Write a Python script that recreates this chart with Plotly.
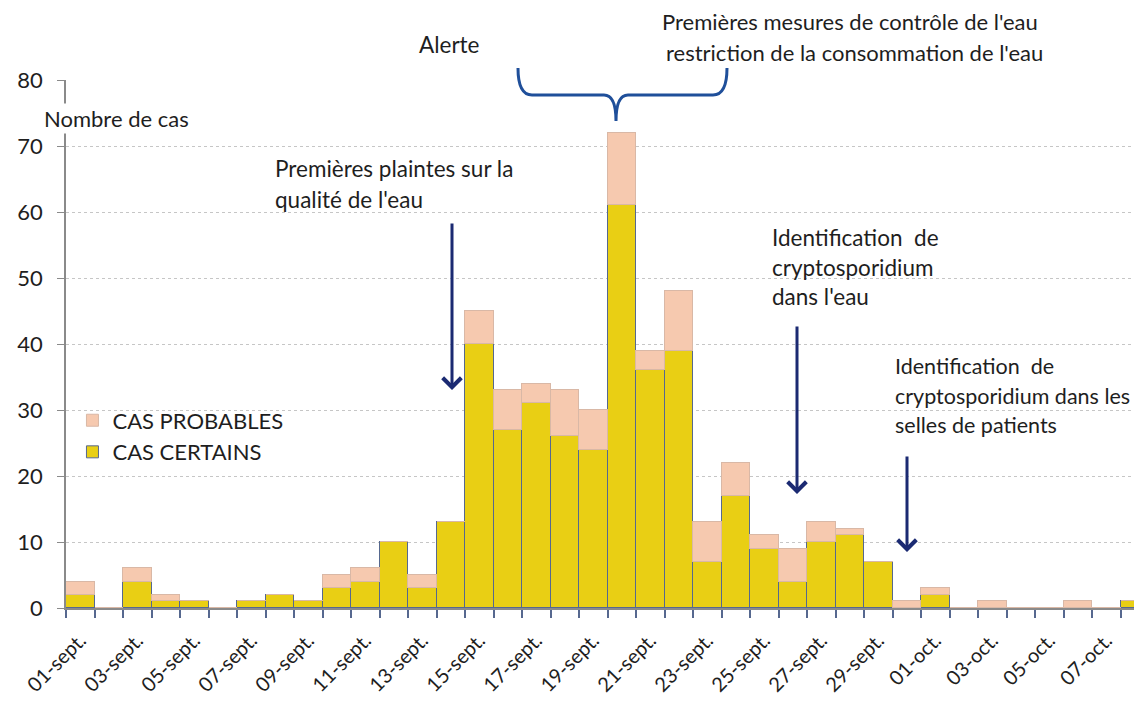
import plotly.graph_objects as go

# ---- data ----
day_labels = ["01-sept.", "02-sept.", "03-sept.", "04-sept.", "05-sept.", "06-sept.", "07-sept.",
              "08-sept.", "09-sept.", "10-sept.", "11-sept.", "12-sept.", "13-sept.", "14-sept.",
              "15-sept.", "16-sept.", "17-sept.", "18-sept.", "19-sept.", "20-sept.", "21-sept.",
              "22-sept.", "23-sept.", "24-sept.", "25-sept.", "26-sept.", "27-sept.", "28-sept.",
              "29-sept.", "30-sept.", "01-oct.", "02-oct.", "03-oct.", "04-oct.", "05-oct.",
              "06-oct.", "07-oct.", "08-oct."]
cas_certains = [2, 0, 4, 1, 1, 0, 1, 2, 1, 3, 4, 10, 3, 13, 40, 27, 31, 26, 24, 61, 36, 39,
                7, 17, 9, 4, 10, 11, 7, 0, 2, 0, 0, 0, 0, 0, 0, 1]
cas_probables = [2, 0, 2, 1, 0, 0, 0, 0, 0, 2, 2, 0, 2, 0, 5, 6, 3, 7, 6, 11, 3, 9,
                 6, 5, 2, 5, 3, 1, 0, 1, 1, 0, 1, 0, 0, 1, 0, 0]
y_ticks = [0, 10, 20, 30, 40, 50, 60, 70, 80]

FONT = "Lato"
YELLOW = "#E9CF14"
PEACH = "#F6C9AF"
OUTLINE = "#56688F"
NAVY = "#1B2A72"
BLUE = "#1F4F9A"
TXT = "#1E1E1E"

idx = list(range(len(day_labels)))

fig = go.Figure()
fig.add_trace(go.Bar(x=idx, y=cas_certains, name="CAS CERTAINS",
                     marker=dict(color=YELLOW, line=dict(color=OUTLINE, width=1))))
fig.add_trace(go.Bar(x=idx, y=cas_probables, name="CAS PROBABLES",
                     marker=dict(color=PEACH, line=dict(color="#D9B8A6", width=1))))

# page body has an 8px margin: plot area on screen spans x 66..1142, y 80..608
OFF = 8
L, T, W, H = 66, 80, 1076, 528


def px(xp, yp):
    return (xp - L) / W, (T + H - yp) / H


annots = []


def text(s, xpix, ypix, anchor="left", size=22.5):
    xx, yy = px(xpix, ypix)
    annots.append(dict(text=s, x=xx, y=yy, xref="paper", yref="paper", showarrow=False,
                       xanchor=anchor, yanchor="middle",
                       font=dict(family=FONT, size=size, color=TXT)))


def arrow(xpix, ytail, ytip):
    xx, yy = px(xpix, ytip)
    annots.append(dict(text="", x=xx, y=yy, xref="paper", yref="paper", showarrow=True,
                       ax=0, ay=ytail - ytip, arrowhead=4, arrowsize=1.2, arrowwidth=3,
                       arrowcolor=NAVY, standoff=0))


text("Premières mesures de contrôle de l'eau", 850, 22, "center", size=22)
text("restriction de la consommation de l'eau", 854, 52, "center", size=22)
text("Alerte", 449, 44, "center")
text("Premières plaintes sur la", 273, 168)
text("qualité de l'eau", 273, 199)
text("Identification  de", 770, 237)
text("cryptosporidium", 770, 267)
text("dans l'eau", 770, 296)
text("Identification  de", 893, 366, size=21.5)
text("cryptosporidium dans les", 893, 396, size=21.5)
text("selles de patients", 893, 425, size=21.5)

nx, ny = px(116, 118)
annots.append(dict(text="Nombre de cas", x=nx, y=ny, xref="paper", yref="paper",
                   showarrow=False, xanchor="center", yanchor="middle", bgcolor="white",
                   font=dict(family=FONT, size=22, color=TXT)))

arrow(452, 222, 390)
arrow(797, 325, 494)
arrow(907, 455, 552)

# bracket
pts = [("M", 518, 68), ("Q", 518, 95, 532, 95), ("L", 604, 95), ("Q", 616, 95, 616, 121),
       ("Q", 616, 95, 628, 95), ("L", 713, 95), ("Q", 727, 95, 727, 68)]
path = ""
for p in pts:
    cmd, coords = p[0], p[1:]
    seg = []
    for i in range(0, len(coords), 2):
        a, b = px(coords[i], coords[i + 1])
        seg.append(f"{a:.5f},{b:.5f}")
    path += cmd + " " + " ".join(seg) + " "

fig.update_layout(
    barmode="stack",
    bargap=0,
    width=1142 - OFF, height=708 - 2 * OFF,
    margin=dict(l=L - OFF, r=0, t=T - OFF, b=100 - OFF, autoexpand=False),
    paper_bgcolor="white", plot_bgcolor="white",
    font=dict(family=FONT, size=22, color=TXT),
    legend=dict(x=0.006, y=0.395, xanchor="left", yanchor="top", traceorder="reversed",
                bgcolor="rgba(0,0,0,0)", font=dict(family=FONT, size=22, color=TXT)),
    annotations=annots,
    shapes=[dict(type="path", path=path.strip(), xref="paper", yref="paper",
                 line=dict(color=BLUE, width=3))],
    xaxis=dict(range=[-0.5, 37.25], tickmode="array", tickvals=idx[::2], ticktext=day_labels[::2],
               tickangle=-45, ticks="", showline=True, linecolor="#8A8A8A", linewidth=1.5,
               showgrid=False, zeroline=False, automargin=False,
               ticklabelstandoff=11, ticklabeloverflow="allow",
               tickfont=dict(family=FONT, size=20, color=TXT),
               minor=dict(tickmode="linear", tick0=-0.5, dtick=1, ticks="outside",
                          ticklen=8, tickcolor=OUTLINE, tickwidth=1.5, showgrid=False)),
    yaxis=dict(range=[0, 80], tickvals=y_ticks, ticks="outside", ticklen=7,
               tickcolor="#8A8A8A", showline=True, linecolor="#8A8A8A", linewidth=1.5,
               showgrid=True, gridcolor="#C6C6C6", griddash="dot", zeroline=False,
               automargin=False, ticklabelstandoff=10,
               tickfont=dict(family=FONT, size=22, color=TXT)),
)

fig.write_html("out.html")
